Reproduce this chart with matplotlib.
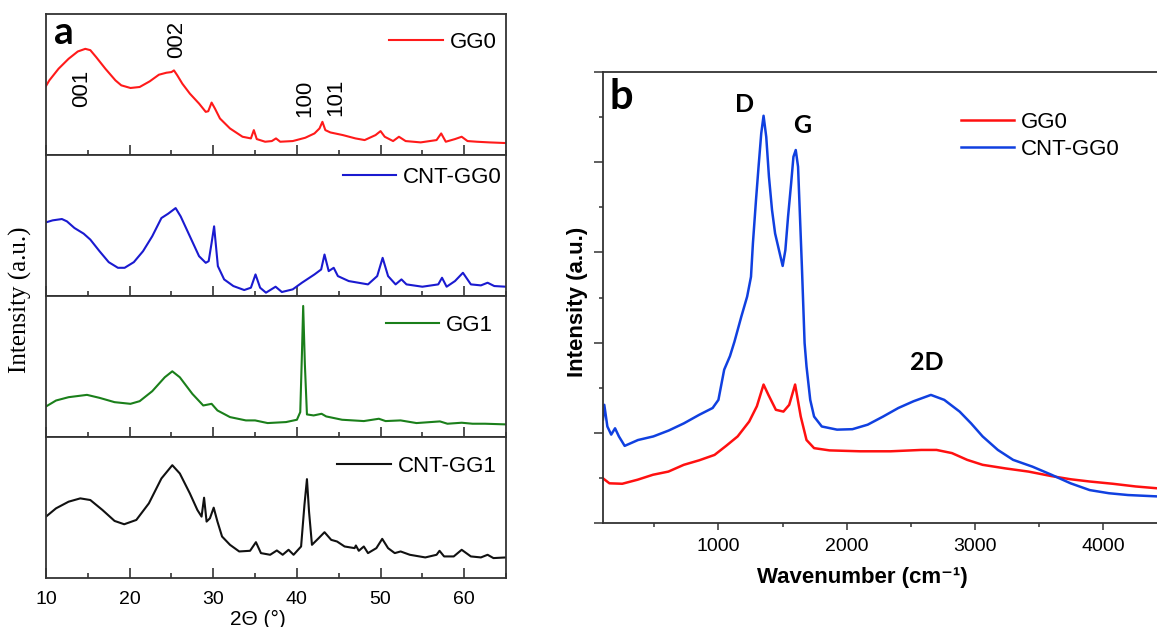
import matplotlib
matplotlib.use('Agg')
import matplotlib.pyplot as plt
from matplotlib.ticker import MultipleLocator, NullFormatter, NullLocator

plt.rcParams['font.family'] = ['Liberation Sans', 'DejaVu Sans']

# ---- XRD patterns (2-theta in degrees, counts in a.u.) ----
gg0_2theta = [10.0, 10.4, 11.5, 12.7, 13.8, 14.7, 15.3, 16.0, 17.1, 18.3,
              19.0, 20.1, 21.2, 22.4, 23.5, 24.4, 25.0, 25.3, 25.7, 26.3,
              27.2, 28.3, 29.1, 29.4, 29.8, 30.2, 30.8, 32.0, 33.5, 34.5,
              34.85, 35.2, 36.2, 37.0, 37.5, 38.0, 39.5, 41.0, 42.1, 42.7,
              43.05, 43.4, 44.0, 45.5, 47.0, 48.1, 49.4, 50.0, 50.5, 51.5,
              52.2, 53.0, 54.8, 56.7, 57.25, 57.8, 58.9, 59.7, 60.4, 61.5,
              63.0, 65.0]
gg0_counts = [208, 225, 260, 290, 312, 320, 316, 295, 260, 225,
              210, 202, 205, 222, 242, 248, 250, 255, 240, 215,
              185, 155, 130, 132, 158, 140, 110, 80, 55, 50,
              75, 48, 40, 42, 50, 40, 42, 52, 65, 80,
              100, 75, 68, 60, 50, 45, 60, 72, 55, 42,
              55, 42, 38, 45, 65, 40, 48, 55, 42, 40,
              38, 36]

cnt_gg0_2theta = [10.0, 10.8, 11.9, 12.5, 13.4, 14.5, 15.3, 16.4, 17.5, 18.6,
                  19.4, 20.5, 21.6, 22.7, 23.8, 24.6, 25.5, 26.1, 27.2, 28.3,
                  29.1, 29.45, 29.8, 30.1, 30.55, 31.3, 32.4, 33.7, 34.5, 35.05,
                  35.6, 36.3, 37.45, 38.2, 39.5, 40.6, 42.1, 42.9, 43.3, 43.8,
                  44.4, 44.9, 46.2, 48.5, 49.6, 50.25, 50.9, 51.8, 52.5, 53.1,
                  55.0, 56.9, 57.35, 57.9, 58.9, 59.85, 60.8, 62.0, 62.8, 63.6,
                  65.0]
cnt_gg0_counts = [222, 228, 232, 225, 205, 188, 170, 135, 102, 85,
                  85, 102, 135, 180, 235, 248, 265, 240, 180, 120,
                  100, 105, 160, 210, 90, 50, 30, 18, 25, 65,
                  25, 10, 28, 12, 20, 40, 65, 80, 125, 75,
                  85, 60, 45, 35, 60, 115, 60, 35, 50, 35,
                  28, 35, 55, 28, 45, 70, 35, 32, 40, 30,
                  28]

gg1_2theta = [10.0, 11.2, 12.7, 14.9, 16.4, 18.2, 20.1, 21.2, 22.7, 24.2,
              25.1, 26.0, 27.5, 28.8, 29.8, 30.5, 32.0, 33.9, 35.0, 36.5,
              38.7, 40.0, 40.4, 40.6, 40.75, 40.95, 41.2, 42.0, 42.95, 43.5,
              45.4, 48.0, 49.8, 50.6, 52.4, 54.3, 57.1, 58.0, 59.7, 61.0,
              62.5, 65.0]
gg1_counts = [92, 110, 120, 127, 118, 105, 100, 108, 138, 180,
              198, 180, 130, 95, 100, 80, 60, 50, 50, 42,
              45, 52, 75, 250, 395, 220, 68, 65, 70, 62,
              52, 48, 55, 48, 50, 42, 47, 40, 43, 40,
              40, 38]

cnt_gg1_2theta = [10.0, 11.2, 12.7, 14.1, 15.3, 16.75, 18.2, 19.35, 20.8, 22.3,
                  23.8, 25.1, 26.0, 27.2, 28.1, 28.6, 28.9, 29.2, 29.6, 30.05,
                  30.5, 31.05, 32.0, 33.1, 34.4, 35.1, 35.7, 36.8, 37.6, 38.3,
                  39.0, 39.6, 40.5, 40.9, 41.2, 41.45, 41.8, 42.6, 43.3, 44.1,
                  44.8, 45.7, 46.9, 47.05, 47.4, 48.0, 48.5, 49.5, 50.2, 50.9,
                  51.7, 52.4, 53.5, 55.35, 56.7, 57.05, 57.6, 58.75, 59.7, 60.8,
                  62.0, 62.8, 63.5, 65.0]
cnt_gg1_counts = [185, 210, 230, 240, 235, 205, 172, 162, 175, 225,
                  300, 340, 315, 255, 205, 185, 242, 170, 180, 212,
                  170, 125, 100, 80, 82, 108, 75, 70, 83, 70,
                  85, 70, 95, 220, 298, 200, 100, 120, 138, 115,
                  110, 95, 90, 98, 82, 95, 75, 90, 118, 90,
                  75, 80, 70, 62, 70, 82, 65, 65, 85, 65,
                  62, 70, 60, 62]

xrd_names = ['GG0', 'CNT-GG0', 'GG1', 'CNT-GG1']
xrd_colors = ['#ff1a1a', '#1a1ad0', '#1a7f1a', '#111111']

# Miller indices marked on the GG0 pattern
hkl_labels = ['001', '002', '100', '101']
hkl_2theta = [14.2, 25.6, 40.9, 44.7]
hkl_height = [200, 348, 170, 174]

# ---- Raman spectra (wavenumber in cm-1, intensity in a.u.) ----
raman_gg0_wn = [100, 150, 250, 370, 490, 610, 730, 850, 970, 1060,
                1150, 1240, 1300, 1352, 1390, 1448, 1507, 1552, 1598, 1642,
                1687, 1746, 1866, 2104, 2343, 2582, 2701, 2821, 2940, 3060,
                3239, 3418, 3597, 3746, 3895, 4075, 4254, 4420]
raman_gg0_int = [0.99, 0.88, 0.87, 0.96, 1.07, 1.14, 1.29, 1.39, 1.51, 1.71,
                 1.92, 2.25, 2.59, 3.07, 2.84, 2.51, 2.47, 2.62, 3.07, 2.36,
                 1.84, 1.66, 1.61, 1.59, 1.59, 1.62, 1.62, 1.55, 1.40, 1.29,
                 1.21, 1.14, 1.04, 0.97, 0.92, 0.87, 0.81, 0.77]

raman_cnt_wn = [100, 110, 134, 164, 194, 224, 269, 373, 493, 612,
                731, 851, 955, 1000, 1045, 1090, 1125, 1179, 1224, 1254,
                1269, 1293, 1313, 1334, 1352, 1373, 1394, 1418, 1442, 1478,
                1501, 1522, 1543, 1567, 1585, 1603, 1621, 1636, 1651, 1672,
                1687, 1716, 1746, 1806, 1925, 2045, 2164, 2284, 2403, 2522,
                2657, 2761, 2881, 2970, 3060, 3179, 3298, 3448, 3597, 3746,
                3895, 4045, 4194, 4420]
raman_cnt_int = [2.30, 2.62, 2.14, 1.96, 2.10, 1.92, 1.71, 1.84, 1.92, 2.05,
                 2.21, 2.40, 2.55, 2.73, 3.40, 3.70, 4.02, 4.58, 5.02, 5.46,
                 6.20, 7.16, 7.90, 8.64, 9.03, 8.56, 7.68, 6.94, 6.42, 5.98,
                 5.70, 6.05, 6.79, 7.53, 8.12, 8.27, 7.90, 6.79, 5.68, 3.99,
                 3.47, 2.73, 2.36, 2.14, 2.07, 2.08, 2.18, 2.36, 2.55, 2.70,
                 2.84, 2.73, 2.47, 2.21, 1.92, 1.62, 1.40, 1.25, 1.07, 0.88,
                 0.73, 0.66, 0.62, 0.59]

raman_bands = ['D', 'G', '2D']
band_wn = [1200, 1657, 2627]
band_height = [9.27, 8.82, 3.55]

W, H = 1157, 627
fig = plt.figure(figsize=(W / 100, H / 100), dpi=100)

# ---- panel a: four stacked XRD panels ----
xrd_series = [(gg0_2theta, gg0_counts), (cnt_gg0_2theta, cnt_gg0_counts),
              (gg1_2theta, gg1_counts), (cnt_gg1_2theta, cnt_gg1_counts)]
legend_spots = [(0.979, 0.80), (0.99, 0.84), (0.972, 0.79), (0.979, 0.79)]
a_left, a_right, a_top, a_row = 46, 506, 14, 141
axes_a = []
for i, (xs, ys) in enumerate(xrd_series):
    top = a_top + i * a_row
    ax = fig.add_axes([a_left / W, 1 - (top + a_row) / H,
                       (a_right - a_left) / W, a_row / H])
    ax.plot(xs, ys, color=xrd_colors[i], lw=1.5, label=xrd_names[i])
    ax.set_xlim(10, 65)
    ax.set_ylim(0, 425)
    ax.yaxis.set_major_locator(NullLocator())
    ax.xaxis.set_major_locator(MultipleLocator(10))
    ax.xaxis.set_minor_locator(MultipleLocator(5))
    ax.tick_params(axis='x', which='major', direction='in', length=7, width=1.1,
                   labelsize=14, pad=9, color='#222222')
    ax.tick_params(axis='x', which='minor', direction='in', length=3.5, width=1.1,
                   color='#222222')
    if i < 3:
        ax.xaxis.set_major_formatter(NullFormatter())
    for sp in ax.spines.values():
        sp.set_linewidth(1.3)
        sp.set_color('#333333')
    ax.legend(loc='center right', bbox_to_anchor=legend_spots[i], frameon=False,
              fontsize=16, handlelength=2.4, handletextpad=0.3, borderpad=0,
              borderaxespad=0)
    axes_a.append(ax)

ax_top = axes_a[0]
for lab, tx, ty in zip(hkl_labels, hkl_2theta, hkl_height):
    ax_top.text(tx, ty, lab, rotation=90, ha='center', va='center', fontsize=16)
ax_top.text(0.018, 0.87, 'a', transform=ax_top.transAxes, ha='left', va='center',
            fontsize=28, fontweight='bold', family=['Lato', 'DejaVu Sans'])

fig.text(20 / W, 1 - 300 / H, 'Intensity (a.u.)', rotation=90, ha='center',
         va='center', fontsize=18, family=['Liberation Serif', 'DejaVu Serif'])
fig.text(258 / W, 1 - 619 / H, '2Θ (°)', ha='center', va='center', fontsize=15)

# ---- panel b: Raman spectra ----
b_left, b_bottom, b_top = 603, 523, 72
axb = fig.add_axes([b_left / W, 1 - b_bottom / H, (W - b_left) / W,
                    (b_bottom - b_top) / H])
axb.plot(raman_gg0_wn, raman_gg0_int, color='#ff1010', lw=1.8, label='GG0')
axb.plot(raman_cnt_wn, raman_cnt_int, color='#1040e0', lw=1.8, label='CNT-GG0')
axb.set_xlim(100, 4420)
axb.set_ylim(0, 10)
axb.spines['right'].set_visible(False)
for sp in ['left', 'top', 'bottom']:
    axb.spines[sp].set_linewidth(1.3)
    axb.spines[sp].set_color('#333333')
axb.xaxis.set_major_locator(MultipleLocator(1000))
axb.xaxis.set_minor_locator(MultipleLocator(500))
axb.yaxis.set_major_locator(MultipleLocator(2))
axb.yaxis.set_minor_locator(MultipleLocator(1))
axb.yaxis.set_major_formatter(NullFormatter())
axb.tick_params(axis='x', which='major', direction='out', length=5, width=1.1,
                labelsize=14, pad=6, color='#333333')
axb.tick_params(axis='x', which='minor', direction='out', length=3, width=1.1,
                color='#333333')
axb.tick_params(axis='y', which='major', direction='out', length=6.5, width=1.1,
                color='#333333')
axb.tick_params(axis='y', which='minor', direction='out', length=3.2, width=1.1,
                color='#333333')
axb.set_xlabel('Wavenumber (cm⁻¹)', fontsize=16, fontweight='bold')
axb.xaxis.set_label_coords((862 - b_left) / (W - b_left), -(578 - b_bottom) / (b_bottom - b_top))
axb.set_ylabel('Intensity (a.u.)', fontsize=16, fontweight='bold')
axb.yaxis.set_label_coords(-(b_left - 578) / (W - b_left), (b_bottom - 302) / (b_bottom - b_top))
axb.xaxis.label.set_va('center')
axb.yaxis.label.set_va('center')
axb.legend(loc='center left', bbox_to_anchor=(0.646, 0.858), frameon=False,
           fontsize=16, handlelength=2.4, handletextpad=0.3, borderpad=0,
           labelspacing=0.25, borderaxespad=0)
for lab, bx, by in zip(raman_bands, band_wn, band_height):
    axb.text(bx, by, lab, ha='center', va='center', fontsize=18,
             fontweight='bold', family=['Lato', 'DejaVu Sans'])
axb.text(150, 9.45, 'b', ha='left', va='center', fontsize=30, fontweight='bold',
         family=['Lato', 'DejaVu Sans'])

fig.savefig('out.png', dpi=100)
